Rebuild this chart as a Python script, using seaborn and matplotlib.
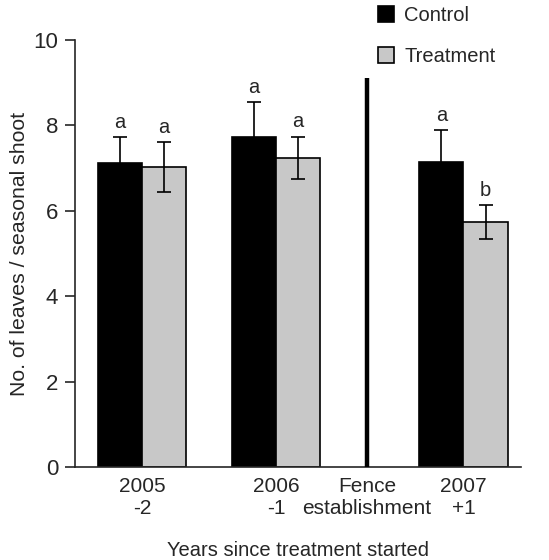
import numpy as np
import pandas as pd
import seaborn as sns
import matplotlib.pyplot as plt

# data
years = ['2005\n-2', '2006\n-1', '2007\n+1']
control_mean = [7.12, 7.73, 7.14]
control_se = [0.60, 0.82, 0.75]
treatment_mean = [7.03, 7.24, 5.74]
treatment_se = [0.58, 0.50, 0.40]
control_letters = ['a', 'a', 'a']
treatment_letters = ['a', 'a', 'b']
fence_label = 'Fence\nestablishment'
fence_height = 9.1

# layout (x positions of the groups on the axis, not data)
group_x = [0.0, 1.0, 2.4]
fence_x = 1.68

sns.set_style('ticks')
plt.rcParams['font.family'] = ['Liberation Sans', 'DejaVu Sans']

df = pd.DataFrame({
    'x': group_x * 2,
    'mean': control_mean + treatment_mean,
    'group': ['Control'] * 3 + ['Treatment'] * 3,
})

fig = plt.figure(figsize=(5.49, 5.60), dpi=100)
ax = fig.add_axes([75 / 549, 1 - 467 / 560, (521 - 75) / 549, 427 / 560])

sns.barplot(
    data=df, x='x', y='mean', hue='group',
    palette={'Control': 'black', 'Treatment': '#c8c8c8'},
    native_scale=True, width=0.66, errorbar=None,
    edgecolor='black', linewidth=1.2, ax=ax,
)

# error bars and letters on top of seaborn's bars
for cont, se, letters in zip(ax.containers, [control_se, treatment_se],
                             [control_letters, treatment_letters]):
    for bar, e, l in zip(cont, se, letters):
        cx = bar.get_x() + bar.get_width() / 2
        h = bar.get_height()
        ax.errorbar(cx, h, yerr=e, color='black', capsize=5,
                    elinewidth=1.2, capthick=1.2, zorder=5)
        ax.text(cx, h + e + 0.12, l, ha='center', va='bottom', fontsize=14.5)

# fence establishment separator
ax.vlines(fence_x, 0, fence_height, color='black', linewidth=3.2, zorder=4)

ax.set_xlim(-0.5, 2.83)
ax.set_ylim(0, 10)
ax.set_yticks(np.arange(0, 11, 2))
ax.set_xticks(group_x[:2] + [fence_x] + group_x[2:])
ax.set_xticklabels(years[:2] + [fence_label] + years[2:], fontsize=15,
                   linespacing=1.25)
ax.tick_params(axis='x', length=0, pad=7)
ax.tick_params(axis='y', length=7, width=1.2, direction='out', labelsize=16,
               pad=5)
for s in ['left', 'bottom']:
    ax.spines[s].set_linewidth(1.2)
sns.despine(ax=ax)

ax.set_xlabel('Years since treatment started', fontsize=14.5, labelpad=16)
ax.set_ylabel('No. of leaves / seasonal shoot', fontsize=15.3, labelpad=3)

sns.move_legend(
    ax, loc='upper left', bbox_to_anchor=(378 / 549, 1 - 6 / 560),
    bbox_transform=fig.transFigure, frameon=False, title=None,
    handlelength=0.8, handleheight=0.8, handletextpad=0.5,
    labelspacing=1.1, borderaxespad=0, borderpad=0, fontsize=14.5,
)

fig.savefig('out.png', dpi=100)
